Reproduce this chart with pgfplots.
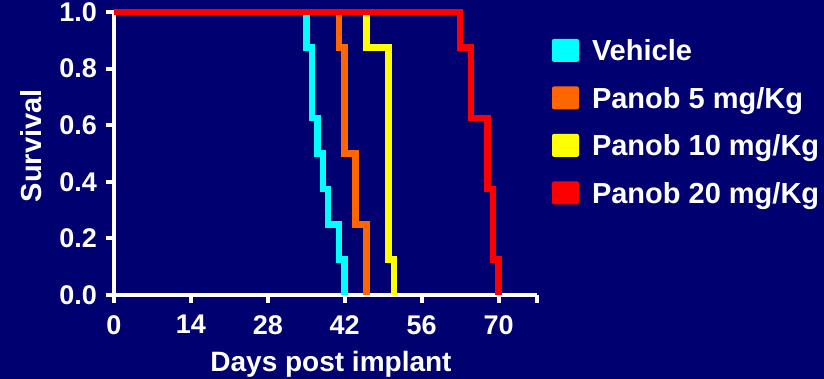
\documentclass[border=0pt]{standalone}
\usepackage{pgfplots}
\pgfplotsset{compat=1.18}
\usepackage{fontspec}
\setmainfont{Liberation Sans}
\definecolor{bg}{RGB}{0,0,112}
\definecolor{kcyan}{RGB}{0,255,255}
\definecolor{korange}{RGB}{255,102,0}
\definecolor{kyellow}{RGB}{255,255,0}
\definecolor{kred}{RGB}{255,0,0}
\begin{document}
\begin{tikzpicture}
\path[use as bounding box, fill=bg] (-114bp,-84bp) rectangle (710bp,295bp);
\begin{axis}[
  at={(0,0)}, anchor=south west,
  scale only axis, width=423bp, height=283bp,
  xmin=0, xmax=77, ymin=0, ymax=1,
  axis x line*=bottom, axis y line*=left,
  axis line style={white, line width=4.5bp, -},
  tick style={white, line width=4bp},
  tick align=outside,
  major tick length=8bp,
  xtick={0,14,28,42,56,70,77},
  xticklabels={0,14,28,42,56,70,{}},
  ytick={0,0.2,0.4,0.6,0.8,1.0},
  /pgf/number format/assume math mode=true,
  ticklabel style={font=\bfseries\fontsize{27bp}{30bp}\selectfont, text=white, inner sep=2bp},
  yticklabel style={xshift=-7bp, /pgf/number format/.cd, fixed, fixed zerofill, precision=1},
  xticklabel style={yshift=-10bp},
  xlabel={Days post implant}, ylabel={Survival},
  xlabel style={font=\bfseries\fontsize{28bp}{32bp}\selectfont, text=white,
    at={(axis description cs:0.513,0)}, anchor=base, yshift=-76bp},
  ylabel style={font=\bfseries\fontsize{29bp}{32bp}\selectfont, text=white,
    at={(axis description cs:0,0.527)}, anchor=base, yshift=72bp},
  clip=false,
  const plot,
  every axis plot/.append style={line width=6.5bp},
  legend style={draw=none, fill=none, at={(1.035,0.91)}, anchor=north west,
    font=\bfseries\fontsize{29bp}{32bp}\selectfont, text=white, inner sep=0pt,
    row sep=21bp, column sep=11bp, cells={anchor=west}},
  legend image code/.code={\path[#1, fill, draw=none, rounded corners=2bp] (0bp,-11bp) rectangle (27bp,12bp);},
]
\addplot[kcyan] coordinates {(0,1) (35,0.875) (36,0.625) (37,0.5) (38,0.375) (39,0.25) (41,0.125) (42,0)};
\addlegendentry{Vehicle}
\addplot[korange] coordinates {(0,1) (41,0.875) (42,0.5) (44,0.25) (46,0)};
\addlegendentry{Panob 5 mg/Kg}
\addplot[kyellow] coordinates {(0,1) (46,0.875) (50,0.125) (51,0)};
\addlegendentry{Panob 10 mg/Kg}
\addplot[kred] coordinates {(0,1) (63,0.875) (65,0.625) (68,0.375) (69,0.125) (70,0)};
\addlegendentry{Panob 20 mg/Kg}
\end{axis}
\end{tikzpicture}
\end{document}
